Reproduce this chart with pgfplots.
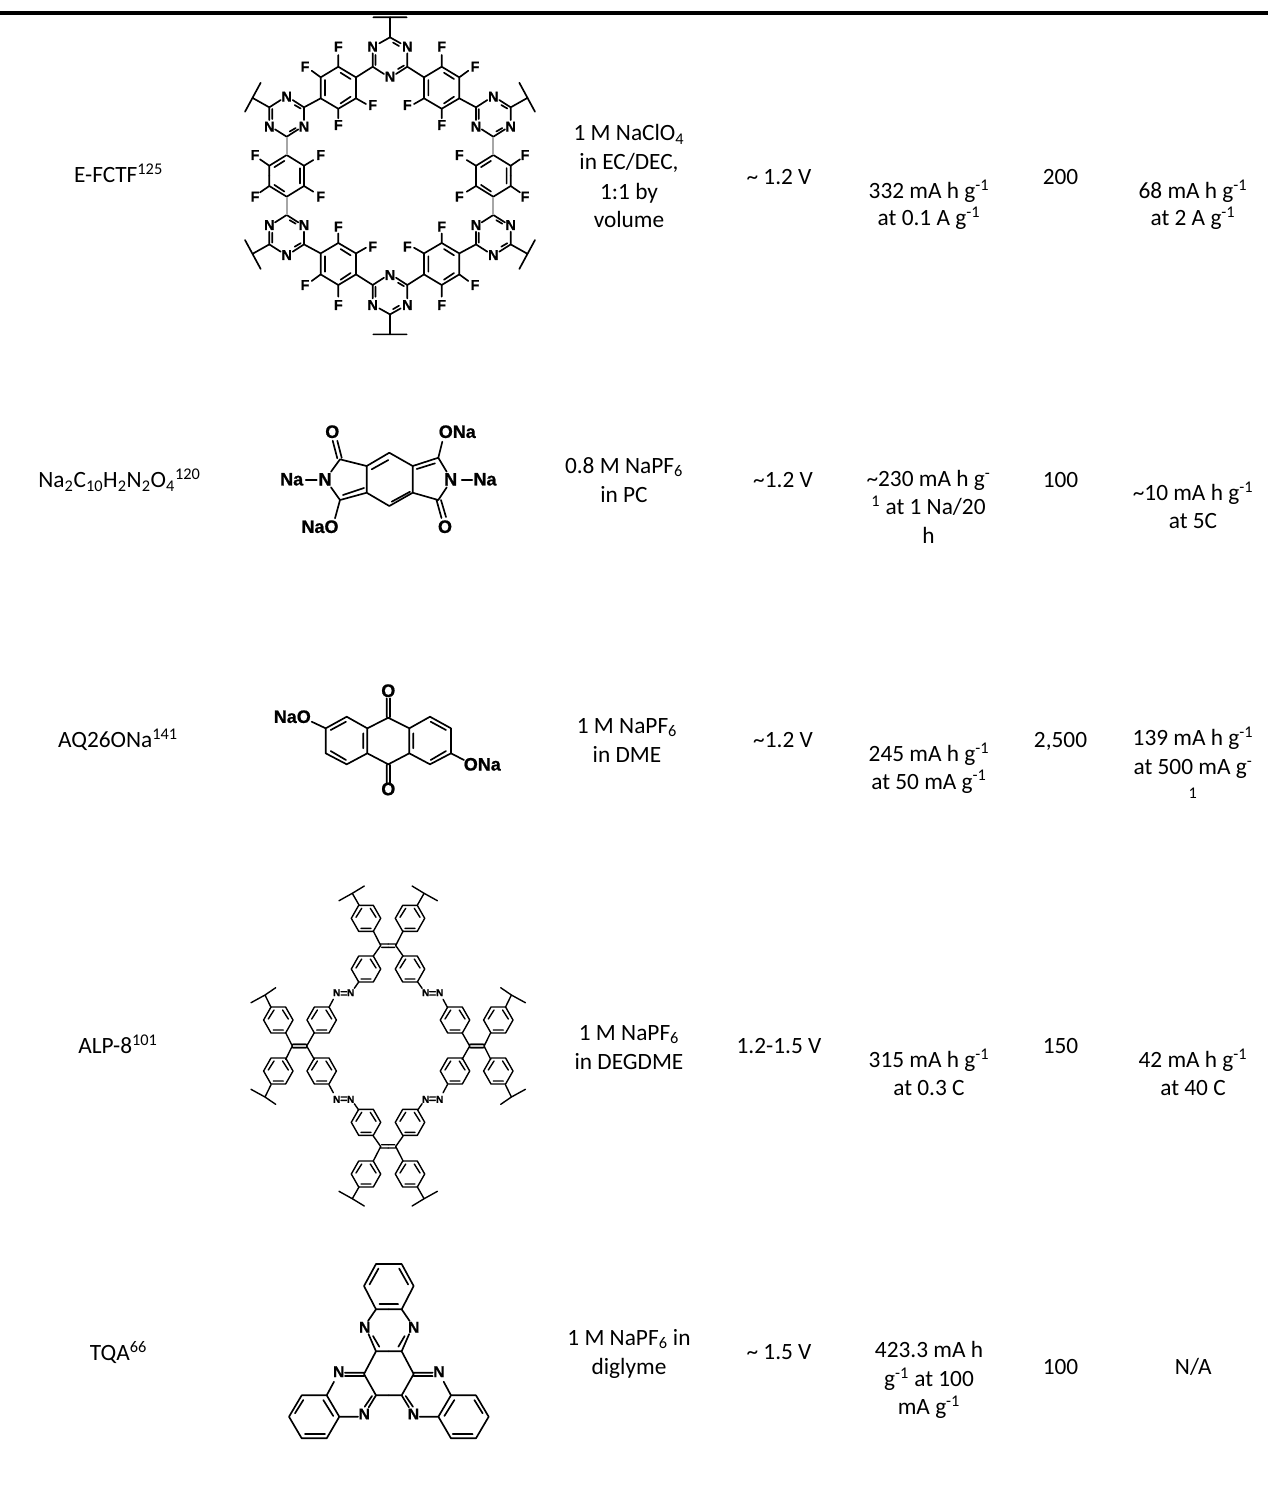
\documentclass[border=0pt]{standalone}
\usepackage{fontspec}
\usepackage{pgfplots}
\usepackage{pgfplotstable}
\pgfplotsset{compat=1.18}
\setmainfont{Carlito}
\newfontfamily\chem[BoldFeatures={FakeBold=0.8}]{Liberation Sans}
% ---------- structure 1 (E-FCTF): one quadrant, mirrored
\pgfplotstableread[row sep=\\]{x y\\
373.3 17.3\\ 390 17.3\\ nan nan\\
390 17.3\\ 390 37.3\\ 379.3 43.3\\ nan nan\\
372.7 53.3\\ 372.7 66.7\\ 384 74\\ nan nan\\
372.7 66.7\\ 356 77.3\\ nan nan\\
338.3 66.7\\ 356 77.3\\ 356 98.3\\ 338.3 108.7\\ 320.7 98.3\\ 320.7 77.3\\ 338.3 66.7\\ nan nan\\
338.3 66.7\\ 338.3 55\\ nan nan\\
320.7 77.3\\ 311.7 70.7\\ nan nan\\
356 98.3\\ 366 104\\ nan nan\\
338.3 108.7\\ 338.3 118.3\\ nan nan\\
320.7 98.3\\ 304 107.3\\ nan nan\\
269.3 107.3\\ 280.7 100\\ nan nan\\
292.7 100\\ 304 107.3\\ 304 120\\ nan nan\\
298.3 129.3\\ 286.7 136.7\\ 275 129.3\\ nan nan\\
269.3 120\\ 269.3 107.3\\ 253.3 98.3\\ nan nan\\
260.7 82.7\\ 245 111.7\\ nan nan\\
269.3 175.83\\ 269.3 165.7\\ 286.7 155\\ 304 165.7\\ 304 175.83\\ nan nan\\
269.3 165.7\\ 260 159.3\\ nan nan\\
304 165.7\\ 313.3 160\\
}\SoneQ
\pgfplotstableread[row sep=\\]{x y\\
286.7 136.7\\ 286.7 155\\
}\SoneStem
\pgfplotstableread[row sep=\\]{x y\\
-14.5 -2\\ -14.5 8\\ nan nan\\
3 -14.5\\ 9 -11\\ nan nan\\
14 8.5\\ 8 12\\
}\Tz
\pgfplotstableread[row sep=\\]{x y\\
-13.3 -7.7\\ -13.3 7.7\\ nan nan\\
2.3 -15\\ 12.3 -8.7\\ nan nan\\
2.3 15.7\\ 12.3 9\\
}\Rd
% ---------- structure 2
\pgfplotstableread[row sep=\\]{x y\\
389.3 452.7\\ 412.7 466\\ 412.7 492.7\\ 389.3 506\\ 366.7 492.7\\ 366.7 466\\ 389.3 452.7\\ nan nan\\
371.7 469.3\\ 388.3 460\\ nan nan\\
391.7 501.7\\ 410 491.7\\ nan nan\\
366.7 466\\ 340 459.3\\ 331 471.7\\ nan nan\\
331 487.3\\ 340 500\\ 366.7 492.7\\ nan nan\\
343 495\\ 364 488\\ nan nan\\
337.3 458.3\\ 332.7 440.7\\ nan nan\\
341.7 457.7\\ 337.3 440.7\\ nan nan\\
305.7 480\\ 316.7 480\\ nan nan\\
340 500\\ 335 518.3\\ nan nan\\
412.7 466\\ 438.3 457.7\\ 446.7 471.7\\ nan nan\\
416.7 469\\ 435 463.3\\ nan nan\\
446.7 487.3\\ 438.3 500\\ 412.7 492.7\\ nan nan\\
438.3 457.7\\ 442.3 441.7\\ nan nan\\
436.5 500\\ 441.5 518\\ nan nan\\
441 500\\ 446 517\\ nan nan\\
461.7 480\\ 472.3 480\\
}\Stwo
% ---------- structure 3
\pgfplotstableread[row sep=\\]{x y\\
388.3 717.7\\ 409.3 728.3\\ 409.3 753.3\\ 388.3 764.3\\ 367.3 753.3\\ 367.3 728.3\\ 388.3 717.7\\ nan nan\\
367.3 728.3\\ 346.7 716.7\\ 325.7 728.3\\ 325.7 753.3\\ 346.7 764.3\\ 367.3 753.3\\ nan nan\\
409.3 728.3\\ 430 716.7\\ 451 728.3\\ 451 753.3\\ 430 764.3\\ 409.3 753.3\\ nan nan\\
363.3 733.3\\ 363.3 748.3\\ nan nan\\
330.7 730\\ 346 721.7\\ nan nan\\
330.7 751\\ 346 760\\ nan nan\\
413.3 733.3\\ 413.3 748.3\\ nan nan\\
430.7 721.7\\ 446 730\\ nan nan\\
430.7 760\\ 446 751\\ nan nan\\
386.7 698.3\\ 386.7 717\\ nan nan\\
390 698.3\\ 390 717\\ nan nan\\
386.7 765\\ 386.7 783.3\\ nan nan\\
390 765\\ 390 783.3\\ nan nan\\
311.7 721.7\\ 325.7 728.3\\ nan nan\\
451 753.3\\ 464 760\\
}\Sthree
% ---------- structure 4: quadrant and ring
\pgfplotstableread[row sep=\\]{x y\\
339 900.7\\ 352.3 893.3\\ 364.3 886\\ nan nan\\
352.3 893.3\\ 359 905\\ nan nan\\
373.3 931\\ 380.7 945.5\\ 373.3 956\\ nan nan\\
380.7 944\\ 388.2 944\\ nan nan\\
381.7 947.3\\ 388.2 947.3\\ nan nan\\
358.7 982\\ 354.3 988.3\\ nan nan\\
341 991.7\\ 346.7 991.7\\ nan nan\\
341 995\\ 346.7 995\\ nan nan\\
333.3 999.3\\ 329 1007.3\\ nan nan\\
271 1007.3\\ 265 995\\ nan nan\\
251 1002.7\\ 265 995\\ 275.7 987.7\\ nan nan\\
285.7 1032.7\\ 292.3 1046\\ nan nan\\
306.7 1046\\ 314.3 1032.7\\ nan nan\\
292.3 1044.4\\ 306.7 1044.4\\ nan nan\\
293.3 1047.6\\ 305.7 1047.6\\
}\SfourQ
\pgfplotstableread[row sep=\\]{x y\\
-7.3 -13\\ 7.3 -13\\ 14.7 0\\ 7.3 13\\ -7.3 13\\ -14.7 0\\ -7.3 -13\\ nan nan\\
-10 -1\\ -4.3 -10\\ nan nan\\
4.3 -10\\ 10 -1\\ nan nan\\
-5 10\\ 5 10\\
}\Sfourring
% ---------- structure 5: left half
\pgfplotstableread[row sep=\\]{x y\\
388.83 1264\\ 376 1264\\ 364 1286\\ 376 1309.3\\ 388.83 1309.3\\ nan nan\\
369.5 1284.5\\ 378.5 1268.5\\ nan nan\\
379.5 1304\\ 388.83 1304\\ nan nan\\
376 1309.3\\ 368 1321\\ nan nan\\
368.5 1334\\ 376 1351.3\\ nan nan\\
373 1336\\ 379.3 1346.7\\ nan nan\\
388.83 1351.3\\ 376 1351.3\\ 364 1374\\ 376 1395.3\\ 388.83 1395.3\\ nan nan\\
345 1372.7\\ 364 1372.7\\ nan nan\\
345 1376\\ 364 1376\\ nan nan\\
334 1381.7\\ 326.7 1395.3\\ nan nan\\
301.7 1395.3\\ 326.7 1395.3\\ 339.3 1416.7\\ 326.7 1438.3\\ 301.7 1438.3\\ 289 1416.7\\ 301.7 1395.3\\ nan nan\\
295 1413.3\\ 303.3 1400\\ nan nan\\
323.3 1400\\ 333.3 1416\\ nan nan\\
305 1434\\ 325 1434\\ nan nan\\
339.3 1416.7\\ 358 1416.7\\ nan nan\\
368.7 1407.3\\ 376 1395.3\\ nan nan\\
364.7 1406.7\\ 372 1396\\
}\Sfive
\pgfplotstableread[row sep=\\]{x y\\
0 13\\ 1268 13\\
}\Rule
\tikzset{bond/.style={black,line width=1.25pt,mark=none,line join=round,line cap=round},
 thinb/.style={black,line width=1.05pt,mark=none,line join=round,line cap=round}}
\newcommand\PL[6][bond]{\addplot[#1] table[x expr=#3*\thisrow{x}+#4,y expr=#5*\thisrow{y}+#6]{#2};}
\newcommand\TX[3]{\node[anchor=base,inner sep=0pt,yshift=-5.2pt,font=\fontsize{17.5}{19}\selectfont] at (axis cs:#1,#2) {#3};}
\newcommand\atA[3]{\node[inner sep=0pt,font=\chem\bfseries\fontsize{10.8}{12}\selectfont] at (axis cs:#1,#2) {#3};}
\newcommand\atB[3]{\node[inner sep=0pt,font=\chem\bfseries\fontsize{13.5}{15}\selectfont] at (axis cs:#1,#2) {#3};}
\newcommand\atC[3]{\node[inner sep=0pt,font=\chem\bfseries\fontsize{7.5}{9}\selectfont] at (axis cs:#1,#2) {#3};}
\newcommand\atD[3]{\node[inner sep=0pt,font=\chem\bfseries\fontsize{11.8}{14}\selectfont] at (axis cs:#1,#2) {#3};}
\newcommand\sbs[1]{\textsubscript{#1}}
\newcommand\sps[1]{\textsuperscript{#1}}
\begin{document}
\begin{tikzpicture}
\useasboundingbox (0,0) rectangle (951pt,1119pt);
\begin{axis}[at={(0,0)},anchor=south west,scale only axis,width=951pt,height=1119pt,xmin=0,xmax=1268,ymin=0,ymax=1492,
  y dir=reverse,hide axis,clip=false,unbounded coords=jump]
\addplot[black,line width=3.4pt,mark=none] table[x=x,y=y]{\Rule};
% S1
\PL{\SoneQ}{1}{0}{1}{0}
\PL{\SoneQ}{-1}{780}{1}{0}
\PL{\SoneQ}{1}{0}{-1}{351.67}
\PL{\SoneQ}{-1}{780}{-1}{351.67}
\PL[black!35,line width=1.25pt,mark=none]{\SoneStem}{1}{0}{1}{0}
\PL[black!35,line width=1.25pt,mark=none]{\SoneStem}{-1}{780}{1}{0}
\PL[black!35,line width=1.25pt,mark=none]{\SoneStem}{1}{0}{-1}{351.67}
\PL[black!35,line width=1.25pt,mark=none]{\SoneStem}{-1}{780}{-1}{351.67}
\PL{\Tz}{1}{390}{1}{57}
\PL{\Tz}{1}{286.7}{1}{234.67}
\PL{\Tz}{1}{493.3}{1}{234.67}
\PL{\Tz}{1}{390}{-1}{294.67}
\PL{\Tz}{1}{286.7}{-1}{117}
\PL{\Tz}{1}{493.3}{-1}{117}
\PL{\Rd}{1}{338.3}{1}{87.7}
\PL{\Rd}{1}{441.7}{1}{87.7}
\PL{\Rd}{1}{338.3}{1}{264}
\PL{\Rd}{1}{441.7}{1}{264}
\PL{\Rd}{-1}{286.7}{1}{175.83}
\PL{\Rd}{-1}{493.3}{1}{175.83}
\atA{372.7}{46.7}{N}\atA{407.3}{46.7}{N}\atA{390}{76.7}{N}
\atA{286.7}{96.7}{N}\atA{304}{126.7}{N}\atA{269.3}{126.7}{N}
\atA{493.3}{96.7}{N}\atA{476}{126.7}{N}\atA{510.7}{126.7}{N}
\atA{372.7}{305}{N}\atA{407.3}{305}{N}\atA{390}{275}{N}
\atA{286.7}{255}{N}\atA{304}{225}{N}\atA{269.3}{225}{N}
\atA{493.3}{255}{N}\atA{476}{225}{N}\atA{510.7}{225}{N}
\atA{338.3}{46.7}{F}\atA{305}{66.7}{F}\atA{372.7}{105}{F}\atA{338.3}{125}{F}
\atA{441.7}{46.7}{F}\atA{475}{66.7}{F}\atA{407.3}{105}{F}\atA{441.7}{125}{F}
\atA{338.3}{305}{F}\atA{305}{285}{F}\atA{372.7}{246.7}{F}\atA{338.3}{226.7}{F}
\atA{441.7}{305}{F}\atA{475}{285}{F}\atA{407.3}{246.7}{F}\atA{441.7}{226.7}{F}
\atA{255}{155}{F}\atA{320.7}{155}{F}\atA{255}{196.7}{F}\atA{320.7}{196.7}{F}
\atA{525}{155}{F}\atA{459.3}{155}{F}\atA{525}{196.7}{F}\atA{459.3}{196.7}{F}
% S2
\PL{\Stwo}{1}{0}{1}{0}
\atB{332.3}{431.7}{O}\atB{457.3}{431.7}{ONa}\atB{291.7}{479.3}{Na}\atB{325}{479.3}{N}
\atB{450.7}{479.3}{N}\atB{485}{479.3}{Na}\atB{320}{526.7}{NaO}\atB{445}{526.7}{O}
% S3
\PL{\Sthree}{1}{0}{1}{0}
\atB{388.3}{690.7}{O}\atB{388.3}{789}{O}\atB{292.3}{716.7}{NaO}\atB{482.3}{764.3}{ONa}
% S4
\PL[thinb]{\SfourQ}{1}{0}{1}{0}
\PL[thinb]{\SfourQ}{-1}{776.4}{1}{0}
\PL[thinb]{\SfourQ}{1}{0}{-1}{2092}
\PL[thinb]{\SfourQ}{-1}{776.4}{-1}{2092}
\PL[thinb]{\Sfourring}{1}{366}{1}{918.3}
\PL[thinb]{\Sfourring}{1}{410}{1}{918.3}
\PL[thinb]{\Sfourring}{1}{366}{1}{969}
\PL[thinb]{\Sfourring}{1}{410}{1}{969}
\PL[thinb]{\Sfourring}{1}{278.3}{1}{1020}
\PL[thinb]{\Sfourring}{1}{321.7}{1}{1020}
\PL[thinb]{\Sfourring}{1}{278.3}{1}{1071}
\PL[thinb]{\Sfourring}{1}{321.7}{1}{1071}
\PL[thinb]{\Sfourring}{1}{455}{1}{1020}
\PL[thinb]{\Sfourring}{1}{498.3}{1}{1020}
\PL[thinb]{\Sfourring}{1}{455}{1}{1071}
\PL[thinb]{\Sfourring}{1}{498.3}{1}{1071}
\PL[thinb]{\Sfourring}{1}{366}{1}{1122.3}
\PL[thinb]{\Sfourring}{1}{410}{1}{1122.3}
\PL[thinb]{\Sfourring}{1}{366}{1}{1174}
\PL[thinb]{\Sfourring}{1}{410}{1}{1174}
\atC{336.7}{992.7}{N}\atC{350.7}{992.7}{N}\atC{425.7}{992.7}{N}\atC{439.7}{992.7}{N}
\atC{336.7}{1099.3}{N}\atC{350.7}{1099.3}{N}\atC{425.7}{1099.3}{N}\atC{439.7}{1099.3}{N}
% S5
\PL{\Sfive}{1}{0}{1}{0}
\PL{\Sfive}{-1}{777.67}{1}{0}
\atD{364.7}{1327.3}{N}\atD{413.7}{1327.3}{N}\atD{338.7}{1371.7}{N}\atD{439}{1371.7}{N}
\atD{364.3}{1414}{N}\atD{413.4}{1414}{N}
% text: column 1
\TX{118.5}{176}{E-FCTF\sps{125}}
\TX{119.5}{481}{Na\sbs{2}C\sbs{10}H\sbs{2}N\sbs{2}O\sbs{4}\sps{120}}
\TX{118}{740.5}{AQ26ONa\sps{141}}
\TX{118}{1046.5}{ALP-8\sps{101}}
\TX{118.5}{1353.8}{TQA\sps{66}}
% column 3
\TX{629}{134}{1 M NaClO\sbs{4}}\TX{629}{163}{in EC/DEC,}\TX{629}{192.4}{1:1 by}\TX{629}{220.4}{volume}
\TX{624}{466.5}{0.8 M NaPF\sbs{6}}\TX{624}{495.5}{in PC}
\TX{627}{726.5}{1 M NaPF\sbs{6}}\TX{627}{756}{in DME}
\TX{629}{1033.5}{1 M NaPF\sbs{6}}\TX{629}{1062.5}{in DEGDME}
\TX{629}{1338.5}{1 M NaPF\sbs{6} in}\TX{629}{1367.5}{diglyme}
% column 4
\TX{779}{178}{\textasciitilde{} 1.2 V}\TX{783}{481}{\textasciitilde1.2 V}\TX{783}{741}{\textasciitilde1.2 V}
\TX{779}{1047}{1.2-1.5 V}\TX{779}{1353}{\textasciitilde{} 1.5 V}
% column 5
\TX{929}{192}{332 mA h g\sps{-1}}\TX{929}{219}{at 0.1 A g\sps{-1}}
\TX{928.5}{480}{\textasciitilde230 mA h g\sps{-}}\TX{928.5}{508}{\sps{1} at 1 Na/20}\TX{928.5}{536.5}{h}
\TX{929}{754.7}{245 mA h g\sps{-1}}\TX{929}{782.4}{at 50 mA g\sps{-1}}
\TX{929}{1061}{315 mA h g\sps{-1}}\TX{929}{1089}{at 0.3 C}
\TX{929}{1350.7}{423.3 mA h}\TX{929}{1379.7}{g\sps{-1} at 100}\TX{929}{1408}{mA g\sps{-1}}
% column 6
\TX{1060.5}{177.5}{200}\TX{1060.5}{481}{100}\TX{1060.5}{740.4}{2,500}\TX{1060.5}{1047}{150}\TX{1060.5}{1367.4}{100}
% column 7
\TX{1193}{192}{68 mA h g\sps{-1}}\TX{1193}{219}{at 2 A g\sps{-1}}
\TX{1193}{494}{\textasciitilde10 mA h g\sps{-1}}\TX{1193}{522}{at 5C}
\TX{1193}{739}{139 mA h g\sps{-1}}\TX{1193}{768}{at 500 mA g\sps{-}}\TX{1193}{800}{\sps{1}}
\TX{1193}{1061}{42 mA h g\sps{-1}}\TX{1193}{1089}{at 40 C}
\TX{1193.3}{1367.4}{N/A}
\end{axis}
\end{tikzpicture}
\end{document}
